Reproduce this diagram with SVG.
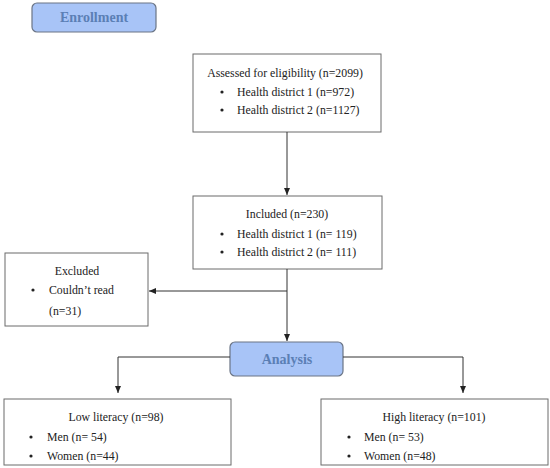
<svg xmlns="http://www.w3.org/2000/svg" width="550" height="468" viewBox="0 0 550 468">
<style>
.box{fill:#fff;stroke:#6b6b6b;stroke-width:1}
.hdr{fill:#a8c4f7;stroke:#6b7585;stroke-width:1.2}
.t{font-family:'Liberation Serif','DejaVu Serif',serif;font-size:11.8px;fill:#222}
.h{font-family:'Liberation Serif','DejaVu Serif',serif;font-size:14px;font-weight:bold;fill:#5b7fb5}
.c{stroke:#333;stroke-width:1;fill:none}
</style>
<defs>
<marker id="ar" markerWidth="8" markerHeight="8" refX="7" refY="4" orient="auto" markerUnits="userSpaceOnUse">
<path d="M0,1 L7,4 L0,7 Z" fill="#222"/>
</marker>
</defs>
<g id="enrollment">
<rect class="hdr" x="32" y="3" width="124" height="29" rx="5"/>
<text class="h" x="94" y="22" text-anchor="middle">Enrollment</text>
</g>
<g id="assessed">
<rect class="box" x="193" y="54" width="188" height="78"/>
<text class="t" x="285" y="77" text-anchor="middle">Assessed for eligibility (n=2099)</text>
<circle cx="222" cy="92" r="1.6" fill="#222"/>
<text class="t" x="237" y="96">Health district 1 (n=972)</text>
<circle cx="222" cy="110" r="1.6" fill="#222"/>
<text class="t" x="237" y="114">Health district 2 (n=1127)</text>
</g>
<g id="included">
<rect class="box" x="193" y="196" width="189" height="73"/>
<text class="t" x="287" y="218" text-anchor="middle">Included (n=230)</text>
<circle cx="222" cy="234" r="1.6" fill="#222"/>
<text class="t" x="237" y="238">Health district 1 (n= 119)</text>
<circle cx="222" cy="252" r="1.6" fill="#222"/>
<text class="t" x="237" y="256">Health district 2 (n= 111)</text>
</g>
<g id="excluded">
<rect class="box" x="5" y="253" width="143" height="73"/>
<text class="t" x="77" y="275" text-anchor="middle">Excluded</text>
<circle cx="33" cy="290" r="1.6" fill="#222"/>
<text class="t" x="49" y="294">Couldn’t read</text>
<text class="t" x="49" y="315">(n=31)</text>
</g>
<g id="analysis">
<rect class="hdr" x="230" y="342" width="113" height="34" rx="5"/>
<text class="h" x="287" y="364" text-anchor="middle">Analysis</text>
</g>
<g id="low">
<rect class="box" x="4" y="399" width="227" height="66"/>
<text class="t" x="116" y="421" text-anchor="middle">Low literacy (n=98)</text>
<circle cx="31" cy="437" r="1.6" fill="#222"/>
<text class="t" x="47" y="441">Men (n= 54)</text>
<circle cx="31" cy="456" r="1.6" fill="#222"/>
<text class="t" x="47" y="460">Women (n=44)</text>
</g>
<g id="high">
<rect class="box" x="321" y="399" width="227" height="66"/>
<text class="t" x="434" y="421" text-anchor="middle">High literacy (n=101)</text>
<circle cx="349" cy="437" r="1.6" fill="#222"/>
<text class="t" x="364" y="441">Men (n= 53)</text>
<circle cx="349" cy="456" r="1.6" fill="#222"/>
<text class="t" x="364" y="460">Women (n=48)</text>
</g>
<g id="connectors">
<line class="c" x1="287" y1="132" x2="287" y2="195" marker-end="url(#ar)"/>
<line class="c" x1="287" y1="269" x2="287" y2="341" marker-end="url(#ar)"/>
<line class="c" x1="287" y1="291" x2="149" y2="291" marker-end="url(#ar)"/>
<polyline class="c" points="230,357 118,357 118,393" marker-end="url(#ar)"/>
<polyline class="c" points="343,357 463,357 463,393" marker-end="url(#ar)"/>
</g>
</svg>
